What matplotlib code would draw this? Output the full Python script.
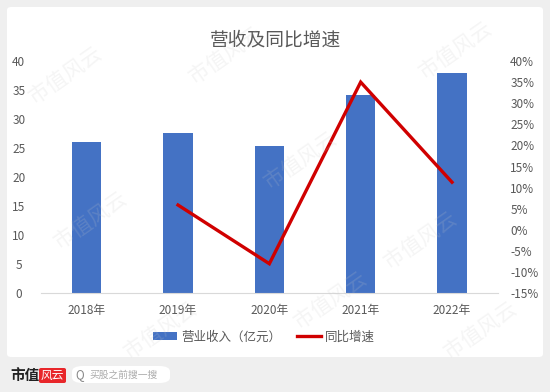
import matplotlib
matplotlib.use('Agg')
import matplotlib.pyplot as plt
from matplotlib.patches import FancyBboxPatch, Patch
from matplotlib.lines import Line2D
from matplotlib.ticker import FuncFormatter

plt.rcParams['font.family'] = ['Noto Sans CJK SC', 'DejaVu Sans']

years = ['2018年', '2019年', '2020年', '2021年', '2022年']
revenue = [26.0, 27.6, 25.4, 34.2, 38.0]
growth_years = ['2019年', '2020年', '2021年', '2022年']
growth = [5.9, -8.0, 35.0, 11.3]

left_ticks = [0, 5, 10, 15, 20, 25, 30, 35, 40]
right_ticks = [-15, -10, -5, 0, 5, 10, 15, 20, 25, 30, 35, 40]

text_gray = '#595959'
bar_blue = '#4472C4'
line_red = '#D00000'

W, H = 550, 392
fig = plt.figure(figsize=(W / 100, H / 100), dpi=100)
fig.patch.set_facecolor('#efefef')

# white card behind the chart
card = FancyBboxPatch((7 / W, 1 - 357 / H), 536 / W, 350 / H,
                      boxstyle='round,pad=0,rounding_size=0.008',
                      transform=fig.transFigure, facecolor='white',
                      edgecolor='none', zorder=-5)
fig.patches.append(card)

ax = fig.add_axes([41 / W, 1 - 293.3 / H, 456.7 / W, 232.3 / H])
ax.set_zorder(2)
ax.set_facecolor('none')
x = list(range(len(years)))
ax.bar(x, revenue, width=0.32, color=bar_blue, zorder=2)
ax.set_xlim(-0.5, len(years) - 0.5)
ax.set_ylim(0, 40)
ax.set_yticks(left_ticks)
ax.set_xticks(x)
ax.set_xticklabels(years)
for s in ['top', 'left', 'right']:
    ax.spines[s].set_visible(False)
ax.spines['bottom'].set_color('#d9d9d9')
ax.tick_params(axis='both', length=0, colors=text_gray, labelsize=8.5)
ax.tick_params(axis='x', pad=8)
ax.tick_params(axis='y', pad=16)
for lbl in ax.get_yticklabels():
    lbl.set_horizontalalignment('center')

ax2 = ax.twinx()
ax2.set_zorder(3)
ax2.set_facecolor('none')
gx = [years.index(y) for y in growth_years]
ax2.plot(gx, growth, color=line_red, linewidth=2.4, zorder=3,
         solid_joinstyle='miter')
ax2.set_ylim(-15, 40)
ax2.set_yticks(right_ticks)
ax2.yaxis.set_major_formatter(FuncFormatter(lambda v, p: f'{v:.0f}%'))
for s in ax2.spines.values():
    s.set_visible(False)
ax2.tick_params(axis='y', length=0, colors=text_gray, labelsize=8.5, pad=9)

fig.text(275 / W, 1 - 40 / H, '营收及同比增速', ha='center', va='center',
         fontsize=13.5, color=text_gray)

handles = [Patch(facecolor=bar_blue, edgecolor='none'),
           Line2D([0], [0], color=line_red, linewidth=2.4)]
fig.legend(handles, ['营业收入（亿元）', '同比增速'], loc='center',
           bbox_to_anchor=(264 / W, 1 - 337 / H), ncol=2, frameon=False,
           fontsize=9, labelcolor=text_gray, handlelength=1.9,
           handleheight=0.6, columnspacing=1.3, handletextpad=0.3)

# faint watermarks
for wx, wy in [(65, 75), (225, 55), (455, 50), (90, 220), (300, 160),
               (420, 240), (160, 330), (480, 330), (330, 300)]:
    fig.text(wx / W, 1 - wy / H, '市值风云', rotation=35, fontsize=15,
             color='#c8c8c8', alpha=0.18, ha='center', va='center', zorder=10)

# footer: logo and search box
fig.text(10 / W, 1 - 375 / H, '市值', fontsize=10.5, fontweight='bold',
         color='#222222', va='center')
logo = FancyBboxPatch((39 / W, 1 - 383 / H), 27 / W, 15 / H,
                      boxstyle='round,pad=0,rounding_size=0.004',
                      transform=fig.transFigure, facecolor='#e8262a',
                      edgecolor='none')
fig.patches.append(logo)
fig.text(52.5 / W, 1 - 375.5 / H, '风云', fontsize=8.5, color='white',
         style='italic', ha='center', va='center')
search = FancyBboxPatch((72 / W, 1 - 383 / H), 98 / W, 17 / H,
                        boxstyle='round,pad=0,rounding_size=0.02',
                        transform=fig.transFigure, facecolor='white',
                        edgecolor='none', mutation_aspect=H / W)
fig.patches.append(search)
fig.text(80 / W, 1 - 375 / H, 'Q', fontsize=8.5, color='#888888',
         ha='center', va='center')
fig.text(89 / W, 1 - 375 / H, '买股之前搜一搜', fontsize=7, color='#aaaaaa',
         va='center')

fig.savefig('out.png', dpi=100, facecolor=fig.get_facecolor())
